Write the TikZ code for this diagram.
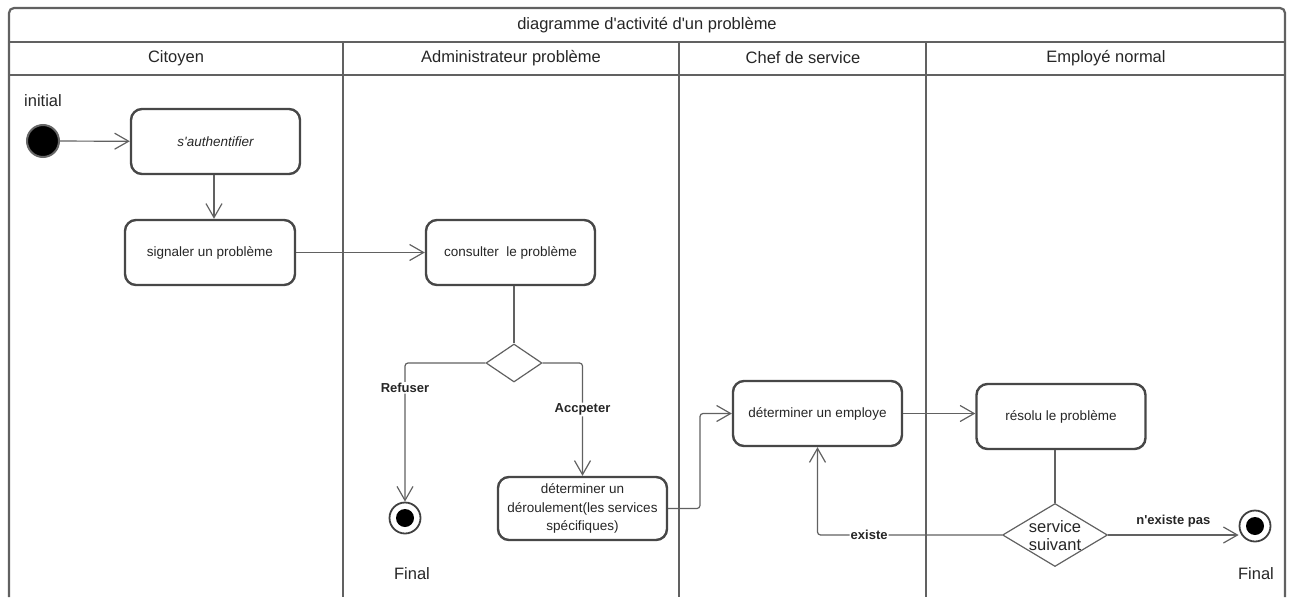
\documentclass[tikz,border=0pt]{standalone}
\usepackage{fontspec}
\setmainfont{Liberation Sans}[Ligatures=TeXOff]
\usetikzlibrary{arrows.meta,shapes.geometric,calc}
\begin{document}
\begin{tikzpicture}[x=1pt,y=-1pt,
  frame/.style={draw=black!62,line width=2.2pt},
  head/.style={font=\fontsize{16.5}{19}\selectfont,text=black!85},
  action/.style={draw=black!72,line width=2.4pt,rounded corners=11pt,fill=white,
    minimum width=169pt,minimum height=65pt,align=center,text=black!85,
    font=\fontsize{13.5}{16.5}\selectfont},
  decision/.style={diamond,draw=black!62,line width=1.2pt,fill=white,inner sep=0pt},
  startnode/.style={circle,fill=black,draw=black!60,line width=2pt,minimum size=32pt,inner sep=0pt},
  endnode/.style={circle,draw=black!75,line width=1.8pt,fill=white,minimum size=31pt,inner sep=0pt,
    path picture={\fill[black] (path picture bounding box.center) circle (9pt);}},
  flow/.style={draw=black!62,line width=1.2pt,rounded corners=3pt,
    -{Straight Barb[length=14pt,width=16pt]}},
  link/.style={draw=black!62,line width=1.2pt,rounded corners=3pt},
  guard/.style={font=\bfseries\fontsize{13}{15}\selectfont,text=black!85,fill=white,inner sep=1pt},
  plain/.style={font=\fontsize{16.5}{19}\selectfont,text=black!85,inner sep=0pt}]

\useasboundingbox (0,0) rectangle (1290,597);

% swimlane frame
\draw[frame,rounded corners=5pt] (9,597) -- (9,8) -- (1285,8) -- (1285,597);
\draw[frame] (9,42) -- (1285,42);
\draw[frame] (9,75) -- (1285,75);
\draw[frame] (343,42) -- (343,597);
\draw[frame] (679,42) -- (679,597);
\draw[frame] (926,42) -- (926,597);

\node[head] (title) at (647,25) {diagramme d'activité d'un problème};
\node[head] (lane1) at (176,58) {Citoyen};
\node[head] (lane2) at (511,58) {Administrateur problème};
\node[head] (lane3) at (803,58) {Chef de service};
\node[head] (lane4) at (1106,58) {Employé normal};

% nodes
\node[plain,anchor=west] (initlbl) at (24,101) {initial};
\node[startnode] (init) at (43,141) {};
\node[action] (auth) at (215.5,141.5) {\itshape s'authentifier};
\node[action,minimum width=170pt] (sig) at (210,252.5) {signaler un problème};
\node[action] (cons) at (510.5,252.5) {consulter\ \ le problème};
\node[decision,minimum width=56pt,minimum height=38pt] (d1) at (514,363) {};
\node[endnode] (fin1) at (405,518) {};
\node[plain] (finlbl1) at (412,574) {Final};
\node[action,minimum height=63pt,font=\fontsize{13.5}{18.5}\selectfont] (dero) at (582.5,508.5)
  {déterminer un\\déroulement(les services\\spécifiques)};
\node[action] (emp) at (817.5,413.5) {déterminer un employe};
\node[action] (res) at (1061,416.5) {résolu le problème};
\node[decision,minimum width=105pt,minimum height=63pt] (d2) at (1055,535) {};
\node[plain,align=center,font=\fontsize{16.5}{18}\selectfont] (d2txt) at (1055,536) {service\\suivant};
\node[endnode] (fin2) at (1255,526) {};
\node[plain] (finlbl2) at (1256,574) {Final};
\coordinate (bend) at (700,0);

% connectors
\draw[flow] (init) -- (auth);
\draw[flow] (auth.south -| 214,0) -- (sig.north -| 214,0);
\draw[flow] (sig) -- (cons);
\draw[link] (d1.north |- cons.south) -- (d1.north);
\draw[flow] (d1.west) -| (fin1.north)
  node[guard,pos=0.59] {Refuser};
\draw[flow] (d1.east) -| (dero.north)
  node[guard,pos=0.706] {Accpeter};
\draw[flow] (dero.east) -- (dero.east -| bend) -- (bend |- emp.west) -- (emp.west);
\draw[flow] (emp.east) -- (emp.east -| res.west);
\draw[link] (d2.north |- res.south) -- (d2.north);
\draw[flow] (d2.west) -| (emp.south)
  node[guard,pos=0.36] {existe};
\draw[flow] (d2.east) -- (d2.east -| fin2.west)
  node[guard,midway,yshift=14pt,fill=none] {n'existe pas};
\end{tikzpicture}
\end{document}
